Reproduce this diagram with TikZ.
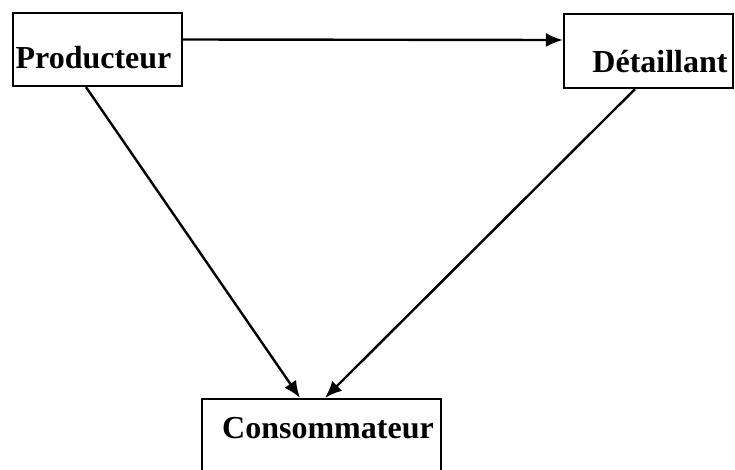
\documentclass[tikz,border=0pt]{standalone}
\usepackage{fontspec}
\setmainfont{Liberation Serif}
\usetikzlibrary{arrows.meta}
\begin{document}
\begin{tikzpicture}[x=1pt,y=-1pt,
  box/.style={draw,line width=2.2pt,inner sep=0pt},
  lbl/.style={inner sep=0pt,anchor=base,font=\fontsize{32}{36}\selectfont\bfseries},
  arr/.style={line width=2.4pt,-{Latex[length=17pt,width=14pt]}}]
\useasboundingbox (0,0) rectangle (735,469);
\node[box,minimum width=169pt,minimum height=73pt] (P) at (97.5,49.5) {};
\node[box,minimum width=169pt,minimum height=74pt] (D) at (648.5,51) {};
\node[box,minimum width=239pt,minimum height=76pt] (C) at (321.5,437) {};
\node[lbl] (tP) at (93.5,68) {Producteur};
\node[lbl] (tD) at (660,72) {Détaillant};
\node[lbl] (tC) at (328,438) {Consommateur};
\draw[arr] ([yshift=10pt]P.east) -- ([yshift=11pt]D.west);
\draw[arr] ([xshift=-11.5pt]P.south) -- ([xshift=-21.5pt]C.north);
\draw[arr] ([xshift=-13.5pt]D.south) -- ([xshift=3.5pt]C.north);
\end{tikzpicture}
\end{document}
